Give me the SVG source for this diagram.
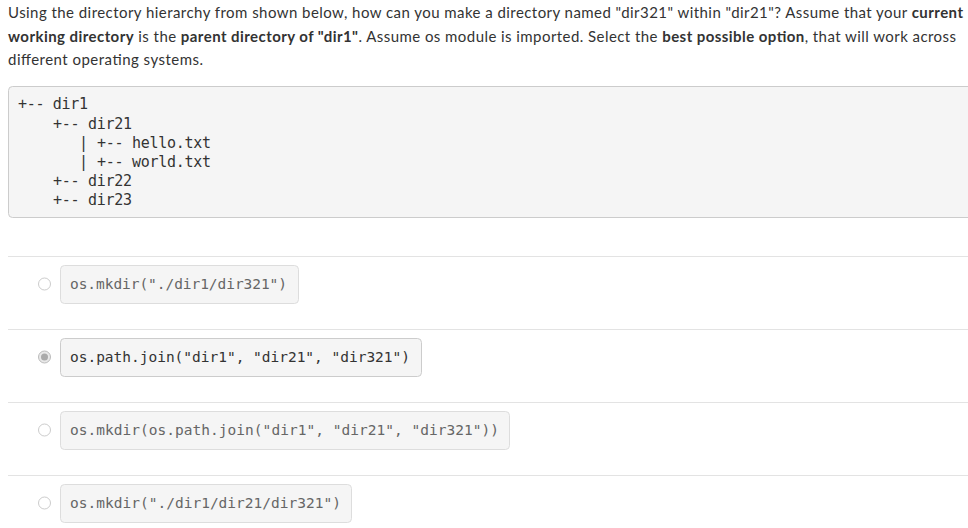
<svg xmlns="http://www.w3.org/2000/svg" width="968" height="528" viewBox="0 0 968 528">
<style>
.q{font-family:Lato,"Liberation Sans",sans-serif;font-size:15px;fill:#333}
.b{font-weight:bold}
.m{font-family:"DejaVu Sans Mono","Liberation Mono",monospace;font-size:14.5px;fill:#333}
.o{font-family:"DejaVu Sans Mono","Liberation Mono",monospace;font-size:14.5px;fill:#666}
.box{fill:#f5f5f5;stroke:#ddd;stroke-width:1}
.sep{stroke:#e3e3e3;stroke-width:1}
.rad{fill:#fff;stroke:#ccc;stroke-width:1}
</style>
<rect width="968" height="528" fill="#fff"/>
<text class="q" x="8" y="18" textLength="955">Using the directory hierarchy from shown below, how can you make a directory named "dir321" within "dir21"? Assume that your <tspan class="b">current</tspan></text>
<text class="q" x="8" y="42" textLength="948"><tspan class="b">working directory</tspan> is the <tspan class="b">parent directory of "dir1"</tspan>. Assume os module is imported. Select the <tspan class="b">best possible option</tspan>, that will work across</text>
<text class="q" x="8" y="65" textLength="195">different operating systems.</text>
<rect x="8.5" y="86.5" width="965" height="131" rx="4" fill="#f5f5f5" stroke="#ccc"/>
<g class="m" style="font-size:15px">
<text x="18" y="109" textLength="70">+-- dir1</text>
<text x="53" y="129" textLength="79">+-- dir21</text>
<text x="79" y="148">|</text>
<text x="97" y="148" textLength="114">+-- hello.txt</text>
<text x="79" y="167">|</text>
<text x="97" y="167" textLength="114">+-- world.txt</text>
<text x="53" y="186" textLength="79">+-- dir22</text>
<text x="53" y="205" textLength="79">+-- dir23</text>
</g>
<line class="sep" x1="8" y1="256.5" x2="968" y2="256.5"/>
<line class="sep" x1="8" y1="329.5" x2="968" y2="329.5"/>
<line class="sep" x1="8" y1="402.5" x2="968" y2="402.5"/>
<line class="sep" x1="8" y1="475.5" x2="968" y2="475.5"/>
<circle class="rad" cx="44.5" cy="284" r="6"/>
<circle cx="44.5" cy="357" r="6" fill="#e8e8e8" stroke="#bbb"/>
<circle cx="44.5" cy="357" r="3.5" fill="#aaa"/>
<circle class="rad" cx="44.5" cy="430" r="6"/>
<circle class="rad" cx="44.5" cy="503" r="6"/>
<rect class="box" x="60.5" y="265.5" width="238" height="38" rx="4"/>
<rect x="60.5" y="338.5" width="361" height="38" rx="4" fill="#f5f5f5" stroke="#ccc"/>
<rect class="box" x="60.5" y="411.5" width="449" height="38" rx="4"/>
<rect class="box" x="60.5" y="484.5" width="291" height="38" rx="4"/>
<text class="o" x="70" y="289" textLength="217">os.mkdir("./dir1/dir321")</text>
<text class="m" x="70" y="362" textLength="340">os.path.join("dir1", "dir21", "dir321")</text>
<text class="o" x="70" y="435" textLength="429">os.mkdir(os.path.join("dir1", "dir21", "dir321"))</text>
<text class="o" x="70" y="508" textLength="271">os.mkdir("./dir1/dir21/dir321")</text>
</svg>
